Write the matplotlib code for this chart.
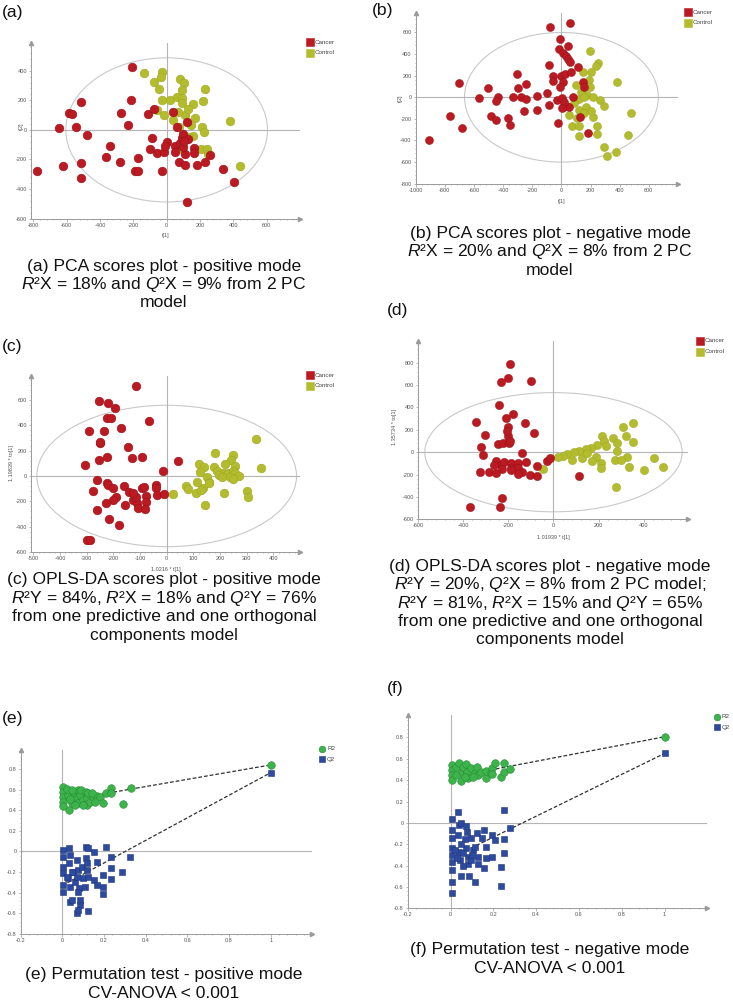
import matplotlib
matplotlib.use("Agg")
import matplotlib.pyplot as plt
from matplotlib.patches import Ellipse
from matplotlib.ticker import AutoMinorLocator, FuncFormatter

plt.rcParams["font.family"] = ["Liberation Sans", "DejaVu Sans"]
plt.rcParams["mathtext.fontset"] = "custom"
plt.rcParams["mathtext.rm"] = "Liberation Sans"
plt.rcParams["mathtext.it"] = "Liberation Sans:italic"
plt.rcParams["axes.unicode_minus"] = False

# ============================================================
# Data
# ============================================================
# (a) PCA positive mode
a_cancer_x = [-206, -514, -216, -584, -570, -274, -114, -76, 40, -644, -546, -234, -476, 120, 62,
              -342, -90, -98, -58, -18, 0, -10, 48, 80, 90, 96, 126, 50, 112, 164, 164, 260, -364,
              -172, -280, -516, -620, -776, -188, -174, -28, 74, 112, 182, 228, 336, 406, -516, 124,
              96, 104]
a_cancer_y = [427, 191, 202, 112, 108, 112, 108, 139, 124, 13, 20, 34, -36, 56, 22,
              -106, -52, -128, -153, -146, -85, -112, -112, -90, -56, -31, -63, -146, -164, -124,
              -157, -173, -180, -189, -220, -223, -243, -279, -277, -277, -277, -220, -238, -238,
              -220, -265, -349, -322, -488, -115, -74]
a_control_x = [-136, -26, -32, -76, -44, 82, 104, 90, 228, -26, 20, 60, 90, 92, 156, 216, -60, -14,
               36, 112, 130, 172, 378, 76, 144, 210, 224, 160, 130, 90, 208, 240, 250, 440, 70]
a_control_y = [385, 389, 355, 326, 274, 342, 319, 270, 277, 202, 202, 220, 218, 184, 173, 196, 135,
               99, 67, 101, 139, 79, 61, 22, 34, 22, -16, -38, -45, -128, -128, -128, -162, -241, 124]

# (b) PCA negative mode
b_cancer_x = [-80, 58, -12, 42, -17, 12, 33, 46, 58, -82, -304, -702, -505, -297, -245, -58, -56,
              -6, 24, 67, 12, -10, 112, 148, 153, -566, -433, -449, -333, -279, -241, -166, -96,
              -171, -85, -259, -33, 3, 12, 30, 53, 78, 21, -482, -452, -370, -354, -763, -679,
              -912, -21, 125, 180, 5]
b_cancer_y = [654, 691, 537, 478, 447, 407, 382, 355, 330, 299, 213, 136, 86, 83, 123, 200, 151,
              197, 216, 234, 139, 99, 278, 145, 99, -6, 6, -34, 6, 0, -15, 12, 37, -117, -74, -123,
              -25, -9, -93, -80, -93, 6, -46, -173, -210, -191, -256, -173, -287, -398, -234, -179,
              -327, -102]
b_control_x = [198, 250, 238, 146, 202, 186, 193, 101, 379, 134, 174, 214, 266, 295, 119, 85, 168,
               49, 119, 107, 153, 216, 73, 123, 247, 247, 121, 476, 458, 293, 315, 372, 202, 154]
b_control_y = [429, 321, 290, 237, 231, 160, 99, 114, 145, 52, 22, 6, -25, -77, -15, -56, -86,
               -163, -117, -194, -148, -185, -265, -265, -265, -342, -358, -142, -348, -456, -543,
               -509, -126, 6]

# (c) OPLS-DA positive mode
c_cancer_x = [-115, -254, -222, -194, -225, -210, -66, -170, -292, -234, -252, -250, -146, -225,
              -255, -130, -92, 41, -14, -307, -262, -225, -222, -275, -200, -160, -140, -92, -42,
              -41, -37, -9, -189, -200, -229, -155, -127, -112, -106, -79, -79, -81, -87, -260,
              -215, -180, -300, -287, -115, -127]
c_cancer_y = [713, 589, 576, 539, 455, 461, 437, 376, 358, 358, 258, 271, 229, 153, 129, 139, 153,
              121, 42, 87, -34, -53, -71, -121, -97, -79, -124, -92, -74, -97, -153, -139, -163,
              -189, -216, -226, -189, -216, -255, -155, -203, -263, -84, -268, -337, -384, -505,
              -505, -163, -137]
c_control_x = [335, 352, 182, 247, 240, 122, 141, 179, 219, 256, 125, 187, 210, 231, 250, 257, 270,
               197, 150, 112, 159, 206, 237, 250, 72, 81, 135, 109, 130, 25, 216, 302, 304, 142, 157]
c_control_y = [289, 63, 184, 168, 126, 92, 74, 74, 92, 82, 34, 39, 21, 21, 39, 21, 0, 8, -5, -45,
               -45, -5, -5, -26, -76, -100, -92, -132, -110, -142, -132, -118, -166, -229, -53]

# (d) OPLS-DA negative mode
d_cancer_x = [-193, -203, -232, -100, -243, -181, -210, -203, -200, -346, -306, -125, -88, -321,
              -313, -247, -222, -199, -140, -257, -235, -218, -188, -159, -188, -156, -122, -140,
              -156, -103, -74, -228, -326, -287, -256, -71, -29, -15, 113, -228, -237, -372, -188,
              -262, -205, -195]
d_cancer_y = [789, 667, 632, 640, 423, 340, 310, 223, 149, 268, 155, 265, 176, 45, -24, 74, 86, 86,
              -3, -83, -113, -92, -98, -98, -143, -143, -92, -173, -197, -203, -212, -152, -173,
              -173, -188, -122, -77, -54, -212, -411, -492, -494, -158, -113, 190, 100]
d_control_x = [351, 307, 320, 351, 216, 224, 265, 282, 232, 194, 165, 143, 113, 91, 62, 40, 21, 84,
               128, 187, 172, 209, 213, 282, 326, 334, 271, 300, 447, 488, 403, 278, -46, 147]
d_control_y = [259, 229, 146, 95, 149, 104, 125, 80, 51, 66, 42, 27, 12, 0, -18, -33, -39, -69,
               -54, -39, -77, -98, -143, 15, -39, -128, -69, -74, -54, -128, -158, -307, -152, -9]

# (e) permutation test positive mode
e_r2_x = [0.005, 0.005, 0.005, 0.005, 0.005, 0.029, 0.034, 0.045, 0.056, 0.069, 0.077, 0.077,
          0.085, 0.090, 0.101, 0.114, 0.12, 0.117, 0.125, 0.133, 0.149, 0.165, 0.181, 0.197, 0.210,
          0.234, 0.234, 0.29, 0.33, 0.021, 0.037, 0.061, 0.098, 0.141, 0.157, 0.045]
e_r2_y = [0.629, 0.580, 0.532, 0.483, 0.444, 0.548, 0.402, 0.467, 0.564, 0.516, 0.596, 0.467,
          0.548, 0.596, 0.500, 0.580, 0.516, 0.451, 0.564, 0.483, 0.532, 0.538, 0.525, 0.467, 0.570,
          0.619, 0.564, 0.457, 0.612, 0.603, 0.506, 0.451, 0.451, 0.564, 0.483, 0.596]
e_q2_x = [0.005, 0.005, 0.005, 0.005, 0.005, 0.005, 0.034, 0.037, 0.034, 0.029, 0.037, 0.037,
          0.045, 0.053, 0.061, 0.072, 0.077, 0.069, 0.082, 0.077, 0.085, 0.085, 0.072, 0.077, 0.093,
          0.098, 0.109, 0.114, 0.125, 0.114, 0.12, 0.125, 0.117, 0.154, 0.165, 0.154, 0.165, 0.194,
          0.194, 0.194, 0.208, 0.234, 0.234, 0.234, 0.288, 0.325, 0.125, 0.045, 0.021]
e_q2_y = [0.015, -0.05, -0.147, -0.212, -0.325, -0.389, 0.031, -0.034, -0.115, -0.260, -0.341,
          -0.493, -0.470, -0.196, -0.292, -0.082, -0.179, -0.244, -0.357, -0.389, -0.470, -0.519,
          -0.600, -0.567, -0.147, -0.260, -0.341, 0.047, 0.031, -0.066, -0.179, -0.244, -0.115,
          -0.002, -0.098, -0.276, -0.325, -0.341, -0.412, -0.228, 0.040, -0.050, -0.157, -0.270,
          -0.196, -0.050, -0.575, -0.196, -0.244]
e_r2_model, e_q2_model = 0.839, 0.764
e_r2_icpt, e_q2_icpt = 0.49, -0.33

# (f) permutation test negative mode
f_r2_x = [0.008, 0.008, 0.008, 0.008, 0.028, 0.039, 0.048, 0.048, 0.059, 0.074, 0.079, 0.082,
          0.098, 0.113, 0.126, 0.129, 0.144, 0.167, 0.167, 0.191, 0.194, 0.209, 0.237, 0.25, 0.25,
          0.279, 0.025, 0.067, 0.105, 0.194]
f_r2_y = [0.541, 0.494, 0.448, 0.401, 0.526, 0.563, 0.463, 0.394, 0.526, 0.551, 0.479, 0.416,
          0.510, 0.463, 0.519, 0.448, 0.479, 0.416, 0.488, 0.463, 0.510, 0.557, 0.432, 0.557, 0.479,
          0.500, 0.448, 0.432, 0.426, 0.454]
f_q2_x = [0.008, 0.036, 0.008, 0.008, 0.008, 0.008, 0.008, 0.008, 0.008, 0.008, 0.039, 0.048,
          0.036, 0.039, 0.043, 0.048, 0.074, 0.079, 0.07, 0.074, 0.082, 0.082, 0.085, 0.095, 0.105,
          0.116, 0.126, 0.129, 0.129, 0.149, 0.157, 0.164, 0.157, 0.167, 0.194, 0.194, 0.206,
          0.234, 0.237, 0.25, 0.25, 0.25, 0.276, 0.098, 0.059, 0.113, 0.02, 0.03, 0.06, 0.1, 0.05]
f_q2_y = [0.033, 0.098, -0.067, -0.145, -0.239, -0.301, -0.364, -0.442, -0.557, -0.660, -0.020,
          0.002, -0.114, -0.270, -0.348, -0.497, -0.030, -0.083, -0.154, -0.239, -0.317, -0.386,
          -0.497, -0.145, -0.254, -0.551, -0.098, -0.317, -0.386, -0.145, -0.067, -0.223, -0.426,
          -0.326, -0.114, -0.323, -0.161, -0.416, -0.588, -0.154, -0.279, 0.120, -0.052, -0.348,
          -0.285, -0.223, -0.25, -0.33, -0.40, -0.30, -0.20]
f_r2_model, f_q2_model = 0.806, 0.65
f_r2_icpt, f_q2_icpt = 0.424, -0.33

# ============================================================
# Colors / sizes
# ============================================================
W, H = 733, 1001
color_cancer = "#bb1a22"
color_control = "#b3bc2d"
color_r2 = "#3cb44b"
color_r2_edge = "#2b8a37"
color_q2 = "#2c4a9f"
color_q2_edge = "#1f3578"
AXIS = "#9a9a9a"
CROSS = "#b4b4b4"
TICKTXT = "#555555"
CAP_FS = 12.6
TICK_FS = 4


def fx(x):
    return x / W


def fy(y):
    return 1 - y / H


def box(left, right, top, bottom):
    return [left / W, 1 - bottom / H, (right - left) / W, (bottom - top) / H]


def style_axes(ax, xticks, yticks):
    for s in ["top", "right"]:
        ax.spines[s].set_visible(False)
    for s in ["left", "bottom"]:
        ax.spines[s].set_color(AXIS)
        ax.spines[s].set_linewidth(0.7)
    ax.plot(1, 0, ">", transform=ax.transAxes, clip_on=False, ms=3, color=AXIS)
    ax.plot(0, 1, "^", transform=ax.transAxes, clip_on=False, ms=3, color=AXIS)
    ax.set_xticks(xticks)
    ax.set_yticks(yticks)
    fmt = FuncFormatter(lambda v, p: f"{v:g}")
    ax.xaxis.set_major_formatter(fmt)
    ax.yaxis.set_major_formatter(fmt)
    ax.xaxis.set_minor_locator(AutoMinorLocator(5))
    ax.yaxis.set_minor_locator(AutoMinorLocator(5))
    ax.tick_params(which="both", colors=AXIS, labelcolor=TICKTXT, labelsize=TICK_FS,
                   width=0.5, length=1.8, pad=1.2)
    ax.tick_params(which="minor", length=1.0)
    ax.axhline(0, color=CROSS, lw=0.8, zorder=1)
    ax.axvline(0, color=CROSS, lw=0.8, zorder=1)
    ax.set_facecolor("none")


def axis_labels(ax, pos, xlabel, xpos, ylabel, ypos):
    # pos = (left, right, top, bottom) in px; label positions in px
    left, right, top, bottom = pos
    ax.set_xlabel(xlabel, fontsize=TICK_FS, color=TICKTXT)
    ax.set_ylabel(ylabel, fontsize=TICK_FS, color=TICKTXT)
    ax.xaxis.set_label_coords((xpos[0] - left) / (right - left), (bottom - xpos[1]) / (bottom - top))
    ax.yaxis.set_label_coords((ypos[0] - left) / (right - left), (bottom - ypos[1]) / (bottom - top))
    ax.xaxis.label.set_va("center")
    ax.yaxis.label.set_va("center")


def key(fig, x, y, entries, step):
    for i, (marker, color, edge, ms, label) in enumerate(entries):
        yy = y + i * step
        fig.lines.append(plt.Line2D([fx(x)], [fy(yy)], marker=marker, color=color, mec=edge,
                                    mew=0.4, ms=ms, ls="none", transform=fig.transFigure))
        fig.text(fx(x + 5), fy(yy), label, fontsize=TICK_FS + 0.5, color="#444444",
                 ha="left", va="center")


def scores_panel(fig, pos, cx, cy, kx, ky, ell, xlim, ylim, xticks, yticks, ms, legend_xy):
    ax = fig.add_axes(box(*pos))
    ax.add_patch(Ellipse((0, 0), 2 * ell[0], 2 * ell[1], fill=False, ec="#c9c9c9", lw=0.8, zorder=1))
    ax.scatter(kx, ky, s=ms, color=color_control, edgecolors="#9aa323", linewidths=0.3, zorder=3)
    ax.scatter(cx, cy, s=ms, color=color_cancer, edgecolors="#8e1016", linewidths=0.3, zorder=3)
    ax.set_xlim(*xlim)
    ax.set_ylim(*ylim)
    style_axes(ax, xticks, yticks)
    key(fig, legend_xy[0], legend_xy[1],
        [("s", color_cancer, color_cancer, 5.5, "Cancer"),
         ("s", color_control, color_control, 5.5, "Control")], 10.5)
    return ax


def perm_panel(fig, pos, r2x, r2y, q2x, q2y, r2m, q2m, r2i, q2i, ylim, legend_xy):
    ax = fig.add_axes(box(*pos))
    ax.plot([0, 1], [r2i, r2m], color="#303030", lw=0.9, ls=(0, (3, 1.6)), zorder=2)
    ax.plot([0, 1], [q2i, q2m], color="#303030", lw=0.9, ls=(0, (3, 1.6)), zorder=2)
    ax.scatter(q2x + [1], q2y + [q2m], s=24, marker="s", color=color_q2, edgecolors=color_q2_edge,
               linewidths=0.4, zorder=3)
    ax.scatter(r2x + [1], r2y + [r2m], s=30, marker="o", color=color_r2, edgecolors=color_r2_edge,
               linewidths=0.4, zorder=4)
    ax.set_xlim(-0.2, 1.197)
    ax.set_ylim(*ylim)
    style_axes(ax, [-0.2, 0, 0.2, 0.4, 0.6, 0.8, 1], [-0.8, -0.6, -0.4, -0.2, 0, 0.2, 0.4, 0.6, 0.8])
    key(fig, legend_xy[0], legend_xy[1],
        [("o", color_r2, color_r2_edge, 4.8, "R2"),
         ("s", color_q2, color_q2_edge, 4.4, "Q2")], 10)
    return ax


def caption(fig, x, ys, lines):
    for y, line in zip(ys, lines):
        fig.text(fx(x), fy(y + 6), line, fontsize=CAP_FS, ha="center", va="baseline", color="#111111")


fig = plt.figure(figsize=(W / 100, H / 100), dpi=100, facecolor="white")

# (a)
pos_a = (31, 300, 43, 219)
ax_a = scores_panel(fig, pos_a, a_cancer_x, a_cancer_y, a_control_x, a_control_y, (605, 487),
                    (-814, 800), (-602, 587), range(-800, 601, 200), range(-600, 401, 200), 40,
                    (310, 42))
axis_labels(ax_a, pos_a, "t[1]", (166, 235), "t[2]", (21, 126))

# (b)
pos_b = (415.7, 678, 13.3, 183.7)
ax_b = scores_panel(fig, pos_b, b_cancer_x, b_cancer_y, b_control_x, b_control_y, (665, 600),
                    (-990, 800), (-800, 777), range(-1000, 601, 200), range(-800, 601, 200), 34,
                    (688, 12))
axis_labels(ax_b, pos_b, "t[1]", (562, 202), "t[2]", (400, 98))

# (c)
pos_c = (31, 300, 376, 552)
ax_c = scores_panel(fig, pos_c, c_cancer_x, c_cancer_y, c_control_x, c_control_y, (487, 558),
                    (-509, 500), (-600, 789), range(-500, 401, 100), range(-600, 601, 200), 40,
                    (310, 375))
axis_labels(ax_c, pos_c, "1.0216 * t[1]", (166, 569), "1.19839 * to[1]", (12, 463))

# (d)
pos_d = (418.3, 688, 340.7, 519.3)
ax_d = scores_panel(fig, pos_d, d_cancer_x, d_cancer_y, d_control_x, d_control_y, (571, 533),
                    (-593, 597), (-600, 997), range(-600, 401, 200), range(-600, 801, 200), 36,
                    (700, 341))
axis_labels(ax_d, pos_d, "1.01939 * t[1]", (553, 537), "1.35734 * to[1]", (395, 427))

# (e)
pos_e = (20.7, 311.7, 750, 934)
perm_panel(fig, pos_e, e_r2_x, e_r2_y, e_q2_x, e_q2_y, e_r2_model, e_q2_model, e_r2_icpt,
           e_q2_icpt, (-0.8, 0.984), (322, 749))

# (f)
pos_f = (407.7, 706.7, 715, 908.3)
perm_panel(fig, pos_f, f_r2_x, f_r2_y, f_q2_x, f_q2_y, f_r2_model, f_q2_model, f_r2_icpt,
           f_q2_icpt, (-0.8, 1.01), (717, 717))

# panel letters
for lab, x, y in [("(a)", 2, 13), ("(b)", 372, 11), ("(c)", 2, 346), ("(d)", 387, 311),
                  ("(e)", 2, 719), ("(f)", 387, 689)]:
    fig.text(fx(x), fy(y), lab, fontsize=CAP_FS, ha="left", va="center", color="#111111")

# captions
caption(fig, 164, [265, 283, 301],
        ["(a) PCA scores plot - positive mode",
         "$R$²X = 18% and $Q$²X = 9% from 2 PC",
         "model"])
caption(fig, 550, [232, 250, 269],
        ["(b) PCA scores plot - negative mode",
         "$R$²X = 20% and $Q$²X = 8% from 2 PC",
         "model"])
caption(fig, 164, [578, 597, 615, 634],
        ["(c) OPLS-DA scores plot - positive mode",
         "$R$²Y = 84%, $R$²X = 18% and $Q$²Y = 76%",
         "from one predictive and one orthogonal",
         "components model"])
caption(fig, 550, [565, 583, 602, 620, 638],
        ["(d) OPLS-DA scores plot - negative mode",
         "$R$²Y = 20%, $Q$²X = 8% from 2 PC model;",
         "$R$²Y = 81%, $R$²X = 15% and $Q$²Y = 65%",
         "from one predictive and one orthogonal",
         "components model"])
caption(fig, 164, [973, 992],
        ["(e) Permutation test - positive mode",
         "CV-ANOVA < 0.001"])
caption(fig, 550, [948, 967],
        ["(f) Permutation test - negative mode",
         "CV-ANOVA < 0.001"])

fig.savefig("out.png", dpi=100, facecolor="white")
